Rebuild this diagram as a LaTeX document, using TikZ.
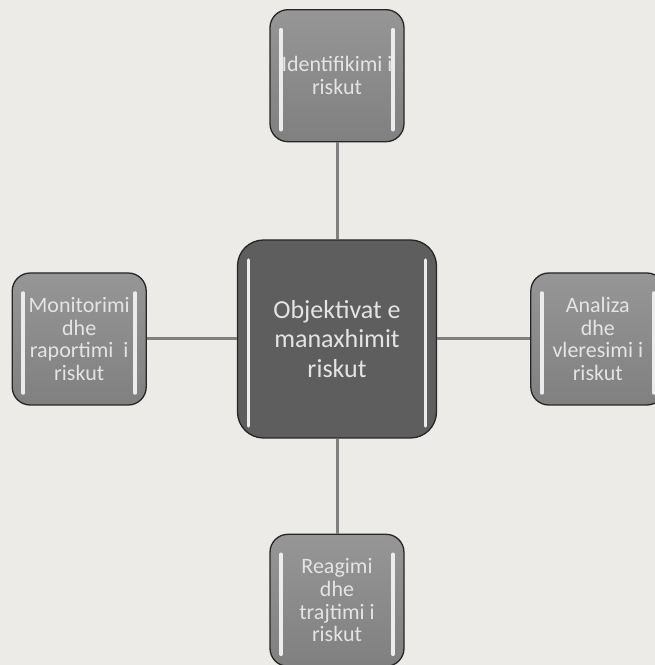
\documentclass[tikz,border=0pt]{standalone}
\usepackage{fontspec}
\setmainfont{Carlito}
\usetikzlibrary{positioning}
\definecolor{paper}{RGB}{236,235,232}
\definecolor{hubgray}{RGB}{94,94,94}
\definecolor{leaftop}{RGB}{150,150,150}
\definecolor{leafbot}{RGB}{128,128,128}
\definecolor{spokegray}{RGB}{128,128,128}
\definecolor{labelgray}{RGB}{228,228,228}
\begin{document}
\begin{tikzpicture}
[
    x=1pt, y=1pt,
    box/.style={draw=black!85, line width=1.3pt, align=center, inner sep=0pt,
        text=labelgray,
        path picture={
            \draw[white!85!gray, line width=3.5pt, line cap=round]
                ([xshift=11pt,yshift=-20pt]path picture bounding box.north west) --
                ([xshift=11pt,yshift=12pt]path picture bounding box.south west)
                ([xshift=-11pt,yshift=-20pt]path picture bounding box.north east) --
                ([xshift=-11pt,yshift=12pt]path picture bounding box.south east);
        }},
    hub/.style={box, minimum width=199pt, minimum height=198pt,
        rounded corners=26pt, fill=hubgray, font=\fontsize{26}{29.5}\selectfont},
    leaf/.style={box, minimum width=134pt, minimum height=132pt,
        rounded corners=18pt, top color=leaftop, bottom color=leafbot,
        font=\fontsize{22}{22.7}\selectfont},
    spoke/.style={draw=spokegray, line width=3pt},
]
\useasboundingbox (0,0) rectangle (655,665);
\fill[paper] (0,0) rectangle (655,665);

\node[hub] (goal) at (337,326) {Objektivat e\\manaxhimit\\riskut};
\node[leaf, above=97pt of goal] (ident) {Identifikimi i\\riskut};
\node[leaf, left=90pt of goal] (monitor) {Monitorimi\\dhe\\raportimi\ \ i\\riskut};
\node[leaf, right=93pt of goal] (analysis) {Analiza\\dhe\\vleresimi i\\riskut};
\node[leaf, below=95pt of goal] (response) {Reagimi\\dhe\\trajtimi i\\riskut};

\draw[spoke] (goal) -- (ident);
\draw[spoke] (goal) -- (monitor);
\draw[spoke] (goal) -- (analysis);
\draw[spoke] (goal) -- (response);
\end{tikzpicture}
\end{document}
